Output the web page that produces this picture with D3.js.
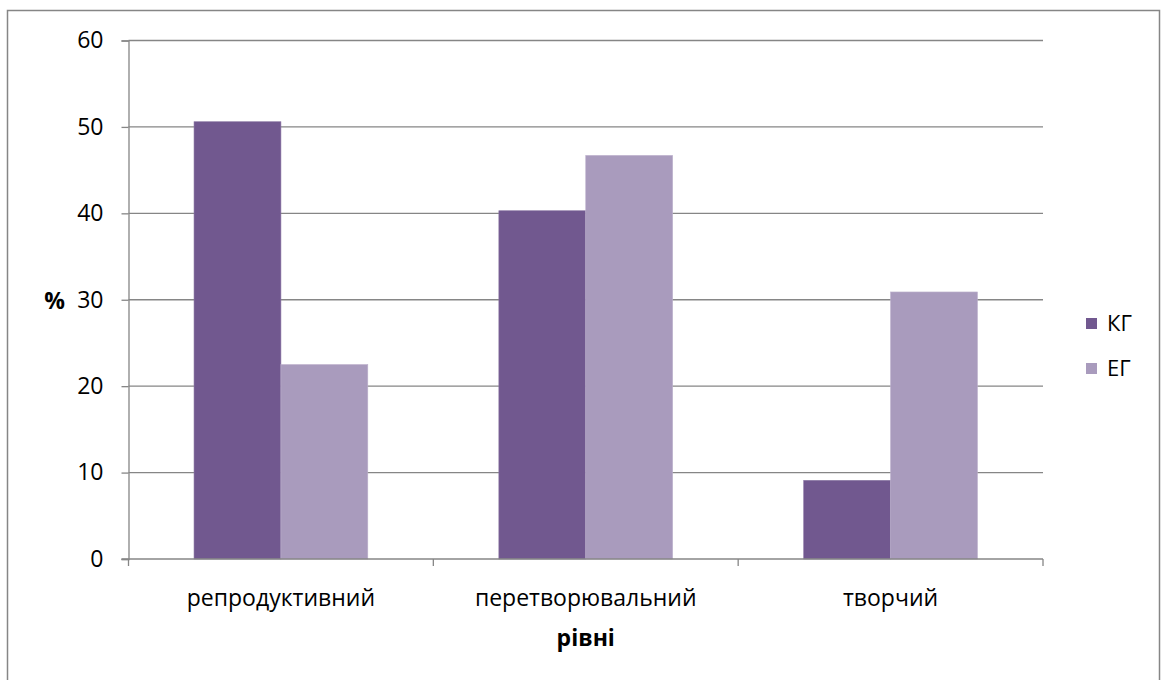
<!DOCTYPE html>
<html>
<head>
<meta charset="utf-8">
<script src="https://cdn.jsdelivr.net/npm/d3@7"></script>
<style>
  html, body { margin: 0; padding: 0; background: #fff; }
  svg { display: block; }
  text { font-family: "Open Sans", "Noto Sans", sans-serif; fill: #000; }
</style>
</head>
<body>
<svg id="chart" width="1161" height="680"></svg>
<script>
// Рівні та частки (%) для контрольної та експериментальної груп
const levels = ["репродуктивний", "перетворювальний", "творчий"];
const seriesNames = ["КГ", "ЕГ"];
const kgValues = [50.6, 40.3, 9.1];
const egValues = [22.5, 46.7, 30.9];
const yTicks = [0, 10, 20, 30, 40, 50, 60];
const colors = ["#71588F", "#A99BBD"];

const svg = d3.select("#chart");
const FS = 23;

// outer frame
svg.append("rect")
  .attr("x", 7.5).attr("y", 10.5)
  .attr("width", 1152).attr("height", 700)
  .attr("fill", "#fff").attr("stroke", "#868686").attr("stroke-width", 1.5);

const plot = { left: 128.5, right: 1043, top: 40.5, bottom: 559 };

const x = d3.scaleBand().domain(levels)
  .range([plot.left, plot.right]).paddingInner(0.43).paddingOuter(0.215);
const xs = d3.scaleBand().domain(seriesNames).range([0, x.bandwidth()]);
const y = d3.scaleLinear().domain([0, 60]).range([plot.bottom, plot.top]);

// horizontal gridlines
svg.append("g").selectAll("line").data(yTicks.filter(d => d > 0)).join("line")
  .attr("x1", plot.left).attr("x2", plot.right)
  .attr("y1", d => y(d)).attr("y2", d => y(d))
  .attr("stroke", "#868686").attr("stroke-width", 1.3);

// bars
const rows = levels.map((l, i) => ({ level: l, values: [kgValues[i], egValues[i]] }));
const groups = svg.append("g").selectAll("g").data(rows).join("g")
  .attr("transform", d => `translate(${x(d.level)},0)`);
groups.selectAll("rect").data(d => d.values.map((v, j) => ({ key: seriesNames[j], v, j })))
  .join("rect")
  .attr("x", d => xs(d.key))
  .attr("width", xs.bandwidth())
  .attr("y", d => y(d.v))
  .attr("height", d => y(0) - y(d.v))
  .attr("fill", d => colors[d.j])
  .attr("stroke", d => d.j === 0 ? "#8a76a3" : "#bcb0cc")
  .attr("stroke-width", 0.6);

// y axis
const yAxis = d3.axisLeft(y).tickValues(yTicks).tickSize(7).tickPadding(18);
const gy = svg.append("g").attr("transform", `translate(${plot.left},0)`).call(yAxis);
gy.select(".domain").attr("stroke", "#868686").attr("stroke-width", 1.3);
gy.selectAll(".tick line").attr("stroke", "#868686").attr("stroke-width", 1.3);
gy.selectAll(".tick text").attr("font-size", FS).attr("font-family", "Open Sans").attr("fill", "#000");

// x axis: baseline with boundary ticks
svg.append("line")
  .attr("x1", plot.left - 7).attr("x2", plot.right)
  .attr("y1", plot.bottom).attr("y2", plot.bottom)
  .attr("stroke", "#868686").attr("stroke-width", 1.3);
const bounds = d3.range(levels.length + 1).map(i => plot.left + i * (plot.right - plot.left) / levels.length);
svg.append("g").selectAll("line").data(bounds).join("line")
  .attr("x1", d => d).attr("x2", d => d)
  .attr("y1", plot.bottom).attr("y2", plot.bottom + 7)
  .attr("stroke", "#868686").attr("stroke-width", 1.3);
svg.append("g").selectAll("text").data(levels).join("text")
  .attr("x", d => x(d) + x.bandwidth() / 2)
  .attr("y", 606)
  .attr("text-anchor", "middle")
  .attr("font-size", FS)
  .text(d => d);

// axis titles
svg.append("text").attr("x", 54.5).attr("y", 309)
  .attr("text-anchor", "middle").attr("font-size", FS).attr("font-weight", "bold").text("%");
svg.append("text").attr("x", (plot.left + plot.right) / 2).attr("y", 646)
  .attr("text-anchor", "middle").attr("font-size", FS).attr("font-weight", "bold").text("рівні");

// legend
const legend = svg.append("g").selectAll("g").data(seriesNames).join("g")
  .attr("transform", (d, i) => `translate(1086,${318 + i * 45})`);
legend.append("rect").attr("width", 11).attr("height", 11).attr("fill", (d, i) => colors[i]);
legend.append("text").attr("x", 21).attr("y", 13).attr("font-size", FS - 1).text(d => d);
</script>
</body>
</html>
